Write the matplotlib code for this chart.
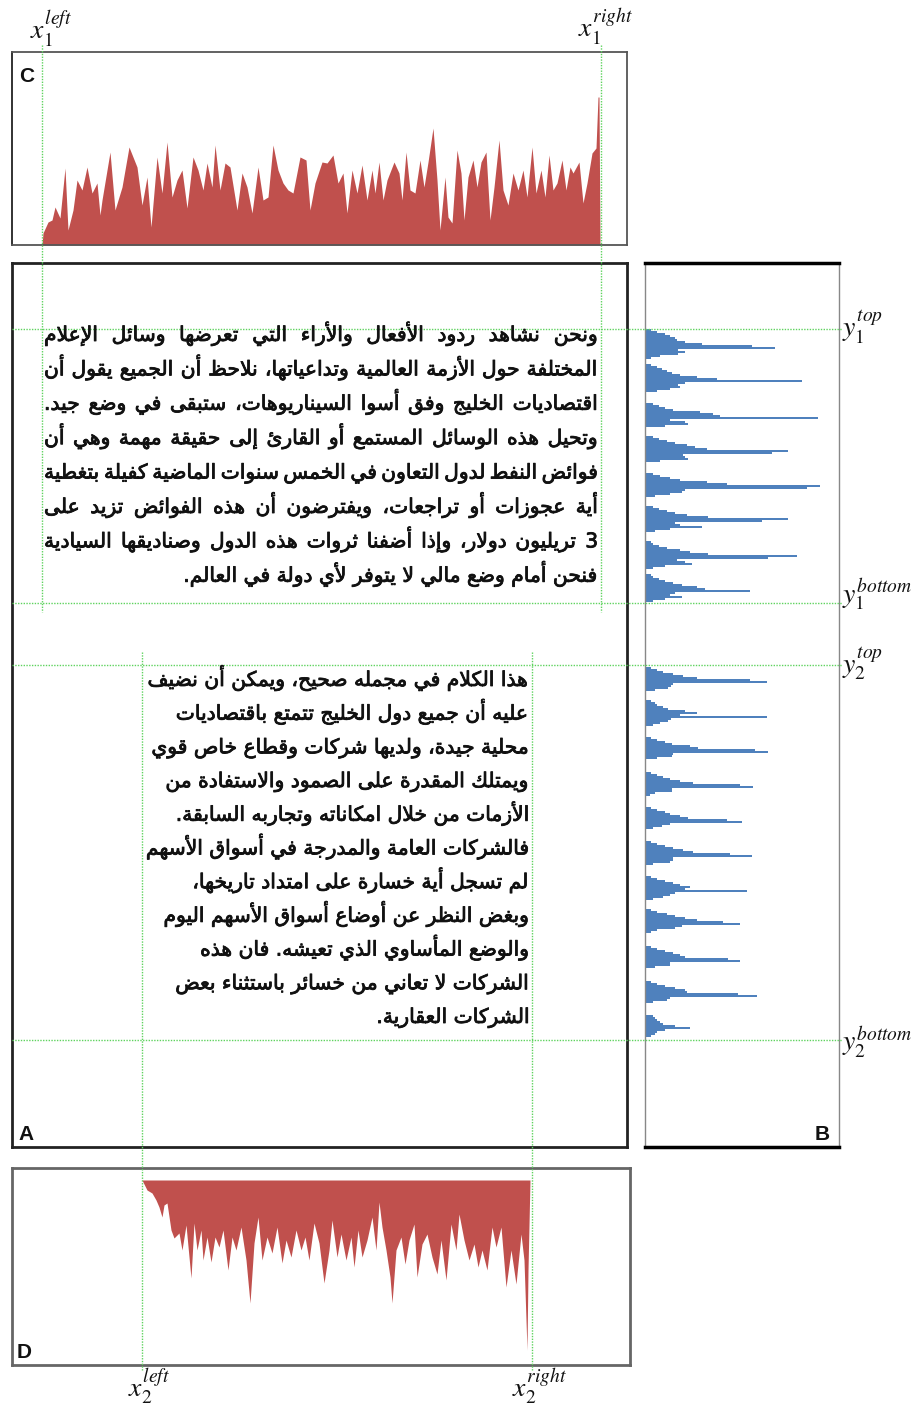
import unicodedata
import numpy as np
import matplotlib
matplotlib.use('Agg')
import matplotlib.pyplot as plt
import matplotlib.patheffects as pe

plt.rcParams['mathtext.fontset'] = 'stix'

W, H = 923, 1410

# text of the two paragraphs (logical order, one entry per printed line)
para1 = [
    'ونحن نشاهد ردود الأفعال والأراء التي تعرضها وسائل الإعلام',
    'المختلفة حول الأزمة العالمية وتداعياتها، نلاحظ أن الجميع يقول أن',
    'اقتصاديات الخليج وفق أسوا السيناريوهات، ستبقى في وضع جيد.',
    'وتحيل هذه الوسائل المستمع أو القارئ إلى حقيقة مهمة وهي أن',
    'فوائض النفط لدول التعاون في الخمس سنوات الماضية كفيلة بتغطية',
    'أية عجوزات أو تراجعات، ويفترضون أن هذه الفوائض تزيد على',
    '3 تريليون دولار، وإذا أضفنا ثروات هذه الدول وصناديقها السيادية',
    'فنحن أمام وضع مالي لا يتوفر لأي دولة في العالم.',
]
para2 = [
    'هذا الكلام في مجمله صحيح، ويمكن أن نضيف',
    'عليه أن جميع دول الخليج تتمتع باقتصاديات',
    'محلية جيدة، ولديها شركات وقطاع خاص قوي',
    'ويمتلك المقدرة على الصمود والاستفادة من',
    'الأزمات من خلال امكاناته وتجاربه السابقة.',
    'فالشركات العامة والمدرجة في أسواق الأسهم',
    'لم تسجل أية خسارة على امتداد تاريخها،',
    'وبغض النظر عن أوضاع أسواق الأسهم اليوم',
    'والوضع المأساوي الذي تعيشه. فان هذه',
    'الشركات لا تعاني من خسائر باستثناء بعض',
    'الشركات العقارية.',
]

# vertical projection of paragraph 1 (column, ink)
c_cols = [0, 1, 6, 10, 13, 18, 23, 26, 31, 35, 40, 45, 50, 55, 58, 60, 68, 73, 80, 87,
          95, 100, 105, 109, 115, 120, 125, 130, 135, 140, 145, 151, 156, 161, 165, 170,
          173, 178, 183, 188, 195, 200, 205, 210, 216, 221, 226, 231, 236, 241, 246, 251,
          258, 264, 268, 273, 280, 285, 291, 296, 301, 305, 310, 315, 320, 325, 330, 333,
          337, 341, 345, 352, 357, 360, 364, 368, 373, 378, 382, 386, 391, 395, 398, 403,
          406, 410, 415, 419, 422, 426, 431, 435, 439, 444, 448, 452, 457, 461, 466, 471,
          476, 481, 485, 490, 494, 499, 503, 507, 511, 515, 520, 524, 528, 531, 537, 541,
          545, 550, 554, 556, 557, 558]
c_ink = [0, 12, 23, 25, 38, 27, 77, 15, 35, 65, 55, 78, 52, 62, 30, 45, 93, 35, 58, 98,
         78, 40, 68, 18, 88, 52, 103, 48, 65, 75, 37, 88, 75, 55, 82, 58,
         100, 55, 82, 78, 35, 72, 58, 32, 78, 45, 48, 100, 75, 62, 55, 52,
         88, 85, 35, 62, 83, 82, 90, 62, 72, 32, 75, 52, 80, 45, 75, 52,
         83, 45, 65, 83, 72, 45, 93, 55, 52, 85, 58, 83, 117, 65, 15, 68,
         28, 22, 95, 72, 25, 68, 85, 58, 83, 93, 25, 58, 105, 55, 40, 72,
         55, 75, 48, 98, 52, 75, 48, 90, 55, 62, 85, 55, 78, 72, 83, 42,
         62, 92, 97, 148, 148, 0]

# vertical projection of paragraph 2 (column, ink)
d_cols = [0, 1, 5, 10, 14, 17, 20, 22, 25, 29, 32, 37, 40, 44, 49, 52, 55, 59, 61, 65,
          69, 73, 77, 81, 86, 90, 94, 99, 104, 108, 112, 116, 120, 125, 130, 135, 140,
          144, 149, 154, 159, 163, 167, 172, 177, 182, 187, 190, 195, 199, 204, 209, 212,
          216, 220, 225, 230, 234, 237, 240, 244, 248, 250, 254, 259, 263, 267, 272, 275,
          280, 285, 290, 295, 299, 304, 309, 314, 317, 322, 327, 332, 336, 340, 345, 350,
          354, 359, 364, 369, 374, 379, 382, 385, 386, 388]
d_ink = [0, 2, 10, 13, 20, 27, 37, 25, 23, 50, 58, 53, 70, 45, 98, 43, 70, 50, 80, 57,
         82, 57, 67, 50, 90, 57, 70, 47, 80, 123, 63, 37, 80, 57, 73, 47, 83,
         60, 77, 50, 70, 57, 80, 43, 63, 103, 70, 40, 77, 54, 80, 57, 87,
         50, 77, 60, 37, 70, 22, 47, 70, 97, 123, 70, 57, 84, 60, 44, 97,
         64, 54, 77, 94, 60, 100, 44, 70, 34, 60, 80, 64, 87, 70, 90, 47,
         67, 47, 107, 70, 104, 54, 80, 170, 90, 0]

# horizontal projection, one list of row counts (2 px rows) per printed line
b1_tops = [329, 364, 403, 436, 473, 506, 541, 574]
b1_rows = [
    [6, 12, 20, 25, 30, 32, 40, 57, 107, 130, 33, 40, 33, 15, 6],
    [6, 12, 17, 22, 27, 35, 52, 72, 157, 40, 33, 35, 25, 12],
    [8, 14, 20, 28, 55, 68, 75, 173, 25, 40, 43, 20],
    [8, 14, 22, 30, 42, 50, 62, 143, 127, 38, 40, 43, 15],
    [8, 15, 25, 35, 62, 82, 175, 162, 40, 37, 25, 10],
    [8, 14, 22, 30, 42, 63, 143, 117, 30, 35, 57, 25, 10],
    [6, 8, 14, 22, 35, 45, 63, 152, 123, 32, 40, 47, 20, 8],
    [6, 8, 14, 20, 28, 37, 52, 60, 105, 30, 25, 37, 20, 8],
]
b2_tops = [667, 700, 737, 772, 807, 841, 876, 909, 946, 981, 1015]
b2_rows = [
    [6, 12, 18, 28, 38, 52, 105, 122, 28, 26, 23, 10],
    [6, 10, 12, 18, 23, 40, 52, 35, 122, 26, 23, 15, 8],
    [6, 12, 20, 27, 45, 53, 110, 123, 28, 27, 12],
    [6, 12, 18, 25, 35, 48, 95, 108, 27, 27, 10, 5],
    [6, 12, 20, 25, 35, 43, 82, 97, 25, 17, 8],
    [6, 12, 20, 28, 38, 48, 85, 107, 28, 28, 25, 8],
    [6, 12, 20, 28, 35, 45, 40, 102, 30, 25, 18, 8],
    [6, 12, 22, 30, 40, 52, 78, 95, 37, 30, 12, 6],
    [6, 12, 20, 28, 35, 40, 83, 95, 25, 25, 10],
    [6, 12, 20, 30, 40, 42, 93, 112, 25, 22, 8],
    [8, 10, 12, 15, 18, 30, 45, 20, 12, 10, 6],
]

RED = '#c0504d'
BLUE = '#4f81bd'
GREEN = '#5fd35f'

# layout (figure pixels)
X1_LEFT, X1_RIGHT = 42, 601
X2_LEFT, X2_RIGHT = 142, 532
Y1_TOP, Y1_BOTTOM = 329, 603
Y2_TOP, Y2_BOTTOM = 665, 1040
P1_BASE, P1_STEP = 341, 34.4
P2_BASE, P2_STEP = 686, 33.7


# --- minimal arabic shaping: contextual forms + lam-alef, then visual order ---
LAM_ALEF = {'\u0627': 'LAM WITH ALEF', '\u0623': 'LAM WITH ALEF WITH HAMZA ABOVE',
            '\u0625': 'LAM WITH ALEF WITH HAMZA BELOW', '\u0622': 'LAM WITH ALEF WITH MADDA ABOVE'}


def letter_forms(ch):
    if ch == '\u0640':
        return {'isol': ch, 'fina': ch, 'init': ch, 'medi': ch}
    name = unicodedata.name(ch, '')
    if not name.startswith('ARABIC LETTER'):
        return {'isol': ch}
    forms = {}
    for key, suffix in (('isol', ' ISOLATED FORM'), ('fina', ' FINAL FORM'),
                        ('init', ' INITIAL FORM'), ('medi', ' MEDIAL FORM')):
        try:
            forms[key] = unicodedata.lookup(name + suffix)
        except KeyError:
            pass
    forms.setdefault('isol', ch)
    return forms


def shape(word):
    units = []
    i = 0
    while i < len(word):
        ch = word[i]
        if ch == '\u0644' and i + 1 < len(word) and word[i + 1] in LAM_ALEF:
            nm = 'ARABIC LIGATURE ' + LAM_ALEF[word[i + 1]]
            units.append({'isol': unicodedata.lookup(nm + ' ISOLATED FORM'),
                          'fina': unicodedata.lookup(nm + ' FINAL FORM')})
            i += 2
        else:
            units.append(letter_forms(ch))
            i += 1
    out = []
    for k, u in enumerate(units):
        prev = units[k - 1] if k > 0 else None
        nxt = units[k + 1] if k + 1 < len(units) else None
        jp = prev is not None and 'init' in prev and 'fina' in u
        jn = nxt is not None and 'init' in u and 'fina' in nxt
        f = 'medi' if (jp and jn) else 'fina' if jp else 'init' if jn else 'isol'
        out.append(u.get(f, u['isol']))
    return ''.join(out)[::-1]


fig = plt.figure(figsize=(W / 100, H / 100), dpi=100)
renderer = fig.canvas.get_renderer()


def panel(l, t, r, b):
    ax = fig.add_axes([l / W, 1 - b / H, (r - l) / W, (b - t) / H])
    ax.set_xticks([])
    ax.set_yticks([])
    return ax


# C: column profile of paragraph 1
axC = panel(12, 52, 627, 245)
axC.fill_between(c_cols, 0, c_ink, color=RED, lw=0)
axC.set_xlim(12 - X1_LEFT, 627 - X1_LEFT)
axC.set_ylim(0, 193)
for s in axC.spines.values():
    s.set_color('#555555')
    s.set_linewidth(1.3)
axC.spines['left'].set_color('#222222')

# A: text panel frame
axA = panel(12, 263, 627, 1147)
for s in axA.spines.values():
    s.set_color('#222222')
    s.set_linewidth(2)

# B: row profiles
axB = panel(645, 263, 839, 1147)
for tops, rows in ((b1_tops, b1_rows), (b2_tops, b2_rows)):
    for top, vals in zip(tops, rows):
        y = top + 2 * np.arange(len(vals))
        axB.barh(y, vals, height=2, align='edge', color=BLUE, lw=0)
axB.set_xlim(0, 194)
axB.set_ylim(1147, 263)
axB.spines['left'].set_color('#888888')
axB.spines['right'].set_color('#888888')
axB.spines['left'].set_linewidth(1)
axB.spines['right'].set_linewidth(1)
axB.spines['top'].set_linewidth(2.5)
axB.spines['bottom'].set_linewidth(2.5)

# D: column profile of paragraph 2, hanging down
axD = panel(12, 1168, 630, 1365)
axD.fill_between(d_cols, 0, d_ink, color=RED, lw=0)
axD.set_xlim(12 - X2_LEFT, 630 - X2_LEFT)
axD.set_ylim(1365 - 1180, 1168 - 1180)
for s in axD.spines.values():
    s.set_color('#666666')
    s.set_linewidth(2)

# overlay in pixel units for text, guides and labels
ov = fig.add_axes([0, 0, 1, 1])
ov.set_xlim(0, W)
ov.set_ylim(H, 0)
ov.axis('off')

txt_kw = dict(family='DejaVu Sans', fontsize=14.6, color='#111111',
              path_effects=[pe.withStroke(linewidth=0.6, foreground='#111111')])


def draw_line(text, x_right, y, x_left=None):
    words = [shape(w) for w in text.split()]
    if x_left is None:
        ov.text(x_right, y, ' '.join(reversed(words)), ha='right', va='baseline', **txt_kw)
        return
    arts = [ov.text(0, y, w, ha='right', va='baseline', **txt_kw) for w in words]
    widths = [a.get_window_extent(renderer).width for a in arts]
    gap = (x_right - x_left - sum(widths)) / (len(words) - 1)
    x = x_right
    for a, w in zip(arts, widths):
        a.set_x(x)
        x -= w + gap


for k, line in enumerate(para1):
    left = 44 if k < len(para1) - 1 else None
    draw_line(line, 598, P1_BASE + k * P1_STEP, left)
for k, line in enumerate(para2):
    draw_line(line, 530, P2_BASE + k * P2_STEP)

# guide lines
gkw = dict(color=GREEN, lw=1, ls=(0, (1, 1)))
for x in (X1_LEFT, X1_RIGHT):
    ov.plot([x, x], [45, 612], **gkw)
for x in (X2_LEFT, X2_RIGHT):
    ov.plot([x, x], [652, 1370], **gkw)
for y in (Y1_TOP, Y1_BOTTOM, Y2_TOP, Y2_BOTTOM):
    ov.plot([12, 842], [y, y], **gkw)

lab_kw = dict(fontsize=20, ha='left', va='baseline', color='#111111')
ov.text(30, 40, r'$x_1^{left}$', **lab_kw)
ov.text(578, 38, r'$x_1^{right}$', **lab_kw)
ov.text(842, 337, r'$y_1^{top}$', **lab_kw)
ov.text(842, 603, r'$y_1^{bottom}$', **lab_kw)
ov.text(842, 673, r'$y_2^{top}$', **lab_kw)
ov.text(842, 1050, r'$y_2^{bottom}$', **lab_kw)
ov.text(128, 1397, r'$x_2^{left}$', **lab_kw)
ov.text(512, 1397, r'$x_2^{right}$', **lab_kw)

pkw = dict(family='Liberation Sans', fontsize=15, fontweight='bold', color='#111111',
           va='baseline', ha='left')
ov.text(19, 82, 'C', **pkw)
ov.text(18, 1140, 'A', **pkw)
ov.text(815, 1140, 'B', **pkw)
ov.text(17, 1358, 'D', **pkw)

fig.savefig('out.png', dpi=100)
